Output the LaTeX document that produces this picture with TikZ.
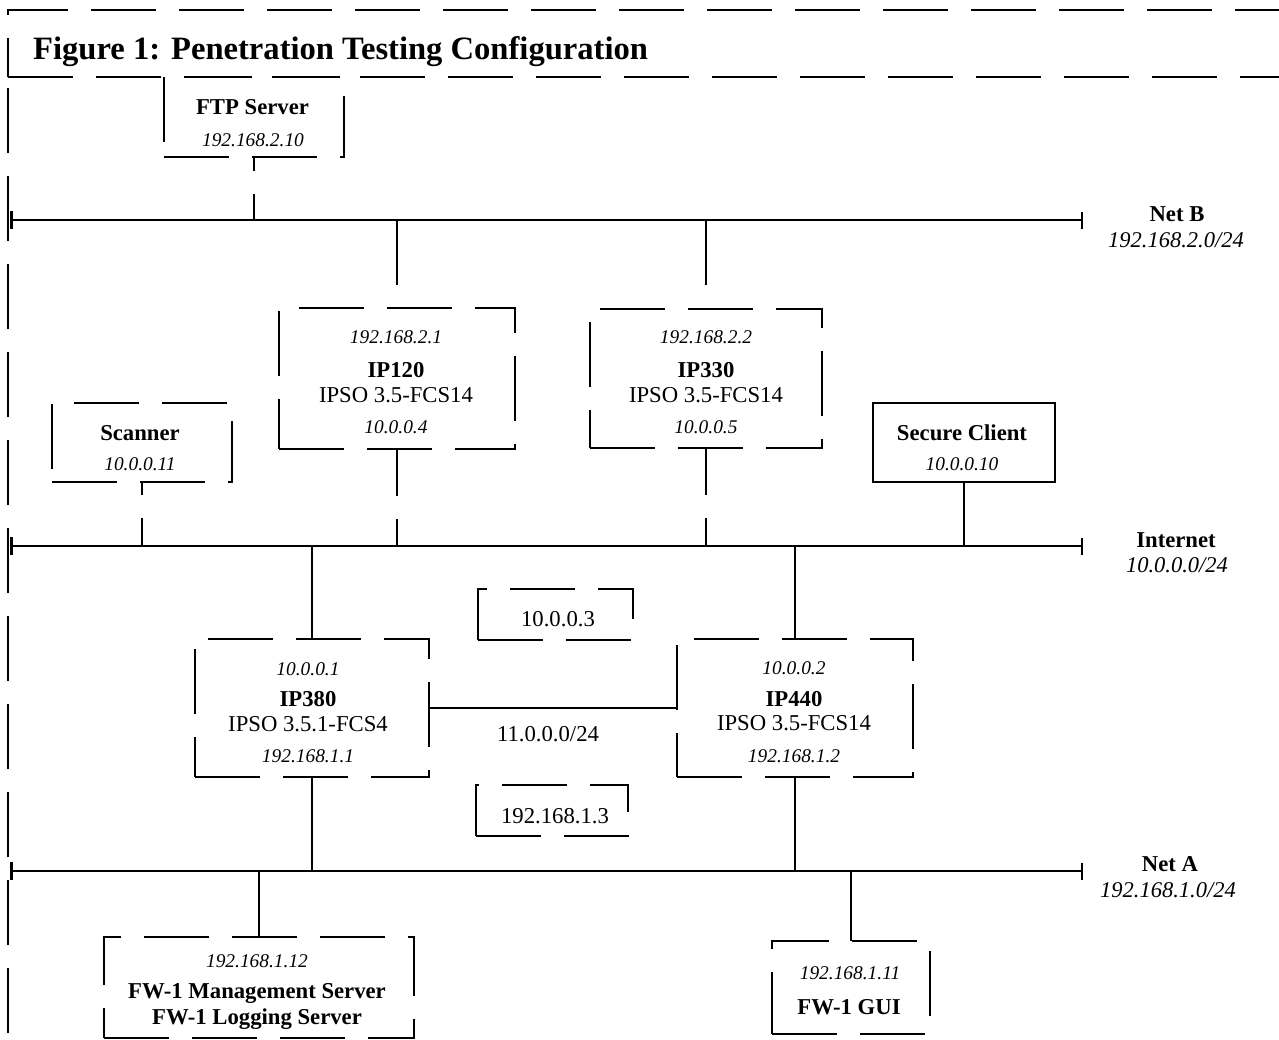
\documentclass[tikz,border=0pt]{standalone}
\usepackage{fontspec}
\setmainfont{Liberation Serif}
\usetikzlibrary{arrows.meta}
\begin{document}
\begin{tikzpicture}[x=1pt,y=-1pt,
  lw/.style={line width=1.7pt},
  dpat/.style={dash pattern=on 65pt off 23pt},
  dbox/.style={draw, lw, dpat, inner sep=0pt, outer sep=0pt},
  sbox/.style={draw, lw, inner sep=0pt, outer sep=0pt},
  conn/.style={lw},
  dconn/.style={lw, dpat},
  bus/.style={lw, {Bar[width=18pt,line width=2.6pt]}-{Bar[width=17pt]}},
  tb/.style={anchor=base, inner sep=0pt, font=\fontsize{22.7}{27}\selectfont\bfseries},
  tr/.style={anchor=base, inner sep=0pt, font=\fontsize{22.7}{27}\selectfont},
  ti/.style={anchor=base, inner sep=0pt, font=\fontsize{19.4}{23}\selectfont\itshape},
  tn/.style={anchor=base, inner sep=0pt, font=\fontsize{22.5}{27}\selectfont\itshape},
]
\useasboundingbox (0,0) rectangle (1279,1039);
\clip (0,0) rectangle (1279,1039);

% frame and title box
\coordinate (tl) at (8,10);
\coordinate (bl) at (8,77);
\coordinate (tr) at (1300,10);
\coordinate (br) at (1300,77);
\coordinate (fb) at (8,1045);
\draw[lw,dpat,dash phase=26] (bl) -- (tl) -- (tr);
\draw[lw,dpat] (bl) -- (br);
\draw[lw,dpat,dash phase=77] (bl) -- (fb);
\node[anchor=base west, inner sep=0pt, font=\fontsize{32.6}{39}\selectfont\bfseries] (title) at (33,59) {Figure 1: Penetration Testing Configuration};

% networks
\coordinate (nbL) at (10,220); \coordinate (nbR) at (1083,220);
\coordinate (inL) at (10,546); \coordinate (inR) at (1083,546);
\coordinate (naL) at (10,871); \coordinate (naR) at (1083,871);
\draw[bus] (nbL) -- (nbR);
\draw[bus] (inL) -- (inR);
\draw[bus] (naL) -- (naR);

\node[tb] (netb) at (1177,221) {Net B};
\node[tn] (netbip) at (1176,247) {192.168.2.0/24};
\node[tb] (neti) at (1176,547) {Internet};
\node[tn] (netiip) at (1177,572) {10.0.0.0/24};
\node[tb] (neta) at (1170,871) {Net A};
\node[tn] (netaip) at (1168,897) {192.168.1.0/24};

% boxes
\node[dbox, minimum width=180, minimum height=80] (ftp) at (254,117) {};
\node[dbox, minimum width=180, minimum height=79] (scan) at (142,442.5) {};
\node[dbox, minimum width=236, minimum height=141] (ip120) at (397,378.5) {};
\node[dbox, minimum width=232, minimum height=139] (ip330) at (706,378.5) {};
\node[sbox, minimum width=182, minimum height=79] (sc) at (964,442.5) {};
\node[dbox, minimum width=234, minimum height=138] (ip380) at (312,708) {};
\node[dbox, minimum width=236, minimum height=138] (ip440) at (795,708) {};
\node[dbox, minimum width=155, minimum height=51] (b3) at (555.5,614.5) {};
\node[dbox, minimum width=152, minimum height=51] (b13) at (552,810.5) {};
\node[dbox, minimum width=310, minimum height=101] (fwm) at (259,987.5) {};
\node[dbox, minimum width=158, minimum height=93] (fwg) at (851,987.5) {};

% box texts
\node[tb] (ftpn) at (252.5,114) {FTP Server};
\node[ti] (ftpip) at (253,146) {192.168.2.10};

\node[tb] (scn) at (140,440) {Scanner};
\node[ti] (scip) at (140,470) {10.0.0.11};

\node[tb] (scln) at (962,440) {Secure Client};
\node[ti] (sclip) at (962,470) {10.0.0.10};

\node[ti] (ip120a) at (396,343) {192.168.2.1};
\node[tb] (ip120n) at (396,377) {IP120};
\node[tr] (ip120v) at (396,402) {IPSO 3.5-FCS14};
\node[ti] (ip120b) at (396,433) {10.0.0.4};

\node[ti] (ip330a) at (706,343) {192.168.2.2};
\node[tb] (ip330n) at (706,377) {IP330};
\node[tr] (ip330v) at (706,402) {IPSO 3.5-FCS14};
\node[ti] (ip330b) at (706,433) {10.0.0.5};

\node[ti] (ip380a) at (308,675) {10.0.0.1};
\node[tb] (ip380n) at (308,706) {IP380};
\node[tr] (ip380v) at (308,731) {IPSO 3.5.1-FCS4};
\node[ti] (ip380b) at (308,762) {192.168.1.1};

\node[ti] (ip440a) at (794,674) {10.0.0.2};
\node[tb] (ip440n) at (794,706) {IP440};
\node[tr] (ip440v) at (794,730) {IPSO 3.5-FCS14};
\node[ti] (ip440b) at (794,762) {192.168.1.2};

\node[tr] (b3t) at (558,626) {10.0.0.3};
\node[tr] (b13t) at (555,823) {192.168.1.3};
\node[tr] (link) at (548,741) {11.0.0.0/24};

\node[ti] (fwmip) at (257,967) {192.168.1.12};
\node[tb] (fwmn1) at (257,998) {FW-1 Management Server};
\node[tb] (fwmn2) at (257,1024) {FW-1 Logging Server};

\node[ti] (fwgip) at (850,979) {192.168.1.11};
\node[tb] (fwgn) at (849,1014) {FW-1 GUI};

% connectors
\draw[dconn, dash phase=51] (ftp.south) -- (ftp.south |- nbL);
\draw[dconn] (ip120.north |- nbL) -- (ip120.north);
\draw[dconn] (ip330.north |- nbL) -- (ip330.north);
\draw[dconn, dash phase=52] (scan.south) -- (scan.south |- inL);
\draw[dconn, dash phase=18] (ip120.south) -- (ip120.south |- inL);
\draw[dconn, dash phase=18] (ip330.south) -- (ip330.south |- inL);
\draw[conn] (sc.south) -- (sc.south |- inL);
\draw[conn] (ip380.north |- inL) -- (ip380.north);
\draw[conn] (ip440.north |- inL) -- (ip440.north);
\draw[conn] (ip380.east) -- (ip440.west);
\draw[conn] (ip380.south) -- (ip380.south |- naL);
\draw[conn] (ip440.south) -- (ip440.south |- naL);
\draw[conn] (fwm.north |- naL) -- (fwm.north);
\draw[conn] (fwg.north |- naL) -- (fwg.north);
\end{tikzpicture}
\end{document}
